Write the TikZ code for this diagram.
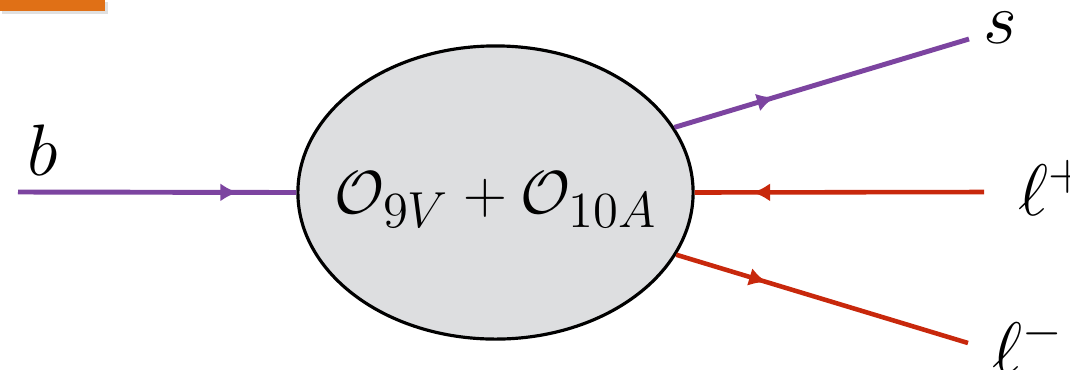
\documentclass[tikz,border=0pt]{standalone}
\usepackage{amsmath}
\usepackage{amssymb}
\usepackage{tikz}
\usetikzlibrary{arrows.meta,shapes.geometric,decorations.markings}
\usepackage{xcolor}
\definecolor{quarkpurple}{RGB}{124,68,160}
\definecolor{leptonred}{RGB}{200,40,12}
\definecolor{blobgrey}{RGB}{221,222,224}
\definecolor{taborange}{RGB}{224,112,22}

\begin{document}
\begin{tikzpicture}[x=0.01cm, y=-0.01cm,
        quark/.style={line width=1.4pt, quarkpurple},
        lepton/.style={line width=1.3pt, leptonred},
        midarrow/.style={postaction={decorate, decoration={markings,
            mark=at position #1 with {\arrow{Latex[length=5pt,width=5.2pt]}}}}},
        lbl/.style={font=\fontsize{20}{24}\selectfont, inner sep=0pt}]
    \useasboundingbox (0,0) rectangle (1070,369);
    % --- corner tab ---
    \fill[black!12] (2,2) rectangle (108,14);
    \fill[taborange] (0,0) rectangle (105,11);
    % --- effective vertex ---
    \node[ellipse, draw, line width=0.9pt, fill=blobgrey, inner sep=0pt,
        minimum width=3.95cm, minimum height=2.93cm] (blob) at (495.5,192.5) {};
    \node[font=\fontsize{19}{23}\selectfont] (ops) at (496,200)
        {$\mathcal{O}_{9V}+\mathcal{O}_{10A}$};
    % --- external legs (free ends) ---
    \coordinate (bIn) at (18,192);
    \coordinate (sOut) at (969,39);
    \coordinate (lpIn) at (984,192);
    \coordinate (lmOut) at (968,343);
    \draw[quark, midarrow=0.79] (bIn) -- (blob.west);
    \draw[quark, midarrow=0.34] (blob.20) -- (sOut);
    \draw[lepton, midarrow=0.80] (lpIn) -- (blob.east);
    \draw[lepton, midarrow=0.31] (blob.-19.5) -- (lmOut);
    % --- labels ---
    \node[lbl] (bLbl) at (43,150) {$b$};
    \node[lbl] (sLbl) at (1000,28) {$s$};
    \node[lbl, anchor=west] (lpLbl) at (1018,188) {$\ell^{+}$};
    \node[lbl, anchor=west] (lmLbl) at (992,345) {$\ell^{-}$};
\end{tikzpicture}
\end{document}
